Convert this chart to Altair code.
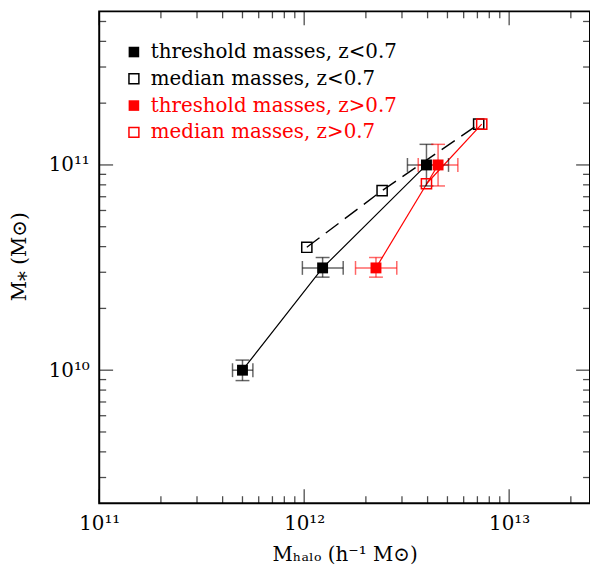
import altair as alt
import pandas as pd

# ---------------- data ----------------
# threshold masses, z<0.7
thr_lo_mhalo = [5.0e11, 1.23e12, 3.95e12]
thr_lo_mstar = [1.0e10, 3.15e10, 1.0e11]
thr_lo_mhalo_lo = [4.47e11, 9.8e11, 3.19e12]
thr_lo_mhalo_hi = [5.62e11, 1.55e12, 5.06e12]
thr_lo_mstar_lo = [8.9e9, 2.84e10, 7.9e10]
thr_lo_mstar_hi = [1.12e10, 3.54e10, 1.26e11]

# threshold masses, z>0.7
thr_hi_mhalo = [2.24e12, 4.5e12]
thr_hi_mstar = [3.15e10, 1.0e11]
thr_hi_mhalo_lo = [1.78e12, 3.6e12]
thr_hi_mhalo_hi = [2.83e12, 5.62e12]
thr_hi_mstar_lo = [2.84e10, 7.9e10]
thr_hi_mstar_hi = [3.54e10, 1.26e11]

# median masses
med_lo_mhalo = [1.03e12, 2.4e12, 7.1e12]
med_lo_mstar = [3.97e10, 7.5e10, 1.58e11]
med_hi_mhalo = [3.95e12, 7.35e12]
med_hi_mstar = [8.1e10, 1.58e11]

x_major = [1e11, 1e12, 1e13]
x_labels = ["10¹¹", "10¹²", "10¹³"]
x_minor = [2e11, 3e11, 4e11, 5e11, 6e11, 7e11, 8e11, 9e11,
           2e12, 3e12, 4e12, 5e12, 6e12, 7e12, 8e12, 9e12, 2e13]
y_major = [1e10, 1e11]
y_labels = ["10¹⁰", "10¹¹"]
y_minor = [3e9, 4e9, 5e9, 6e9, 7e9, 8e9, 9e9,
           2e10, 3e10, 4e10, 5e10, 6e10, 7e10, 8e10, 9e10,
           2e11, 3e11, 4e11, 5e11]

legend_labels = ["threshold masses, z<0.7", "median masses, z<0.7",
                 "threshold masses, z>0.7", "median masses, z>0.7"]
legend_filled = [True, False, True, False]
legend_colors = ["black", "black", "red", "red"]

x_domain = [1e11, 2.48e13]
y_domain = [2.25e9, 5.6e11]

# ---------------- layout ----------------
W, H = 495, 496
FONT = "DejaVu Serif"
RED = "#ff0000"
FS = 20

xs = alt.Scale(type="log", domain=x_domain, nice=False)
ys = alt.Scale(type="log", domain=y_domain, nice=False)


def label_expr(vals, labels):
    expr = "''"
    for v, l in zip(reversed(vals), reversed(labels)):
        expr = f"datum.value == {v:.0e} ? '{l}' : " + expr
    return expr


x_axis = alt.Axis(values=x_major, labelExpr=label_expr(x_major, x_labels),
                  ticks=False, tickSize=0, domain=False, grid=False,
                  labelFont=FONT, labelFontSize=FS, labelPadding=11,
                  labelColor="black", labelFlush=False,
                  title="Mₕₐₗₒ (h⁻¹ M⊙)", titleFont=FONT, titleFontSize=FS,
                  titleFontWeight="normal", titleColor="black",
                  titleBaseline="alphabetic", titleAlign="center", titleY=58, titleX=W / 2)
y_axis = alt.Axis(values=y_major, labelExpr=label_expr(y_major, y_labels),
                  ticks=False, tickSize=0, domain=False, grid=False,
                  labelFont=FONT, labelFontSize=FS, labelPadding=10,
                  labelColor="black", labelFlush=False,
                  title="M⁎ (M⊙)", titleFont=FONT, titleFontSize=FS,
                  titleFontWeight="normal", titleColor="black",
                  titleAngle=270, titleBaseline="alphabetic", titleAlign="center",
                  titleX=-74, titleY=H / 2 - 1)


def df_of(**cols):
    return pd.DataFrame(cols)


thr_lo = df_of(x=thr_lo_mhalo, y=thr_lo_mstar, xlo=thr_lo_mhalo_lo, xhi=thr_lo_mhalo_hi,
               ylo=thr_lo_mstar_lo, yhi=thr_lo_mstar_hi)
thr_hi = df_of(x=thr_hi_mhalo, y=thr_hi_mstar, xlo=thr_hi_mhalo_lo, xhi=thr_hi_mhalo_hi,
               ylo=thr_hi_mstar_lo, yhi=thr_hi_mstar_hi)
med_lo = df_of(x=med_lo_mhalo, y=med_lo_mstar)
med_hi = df_of(x=med_hi_mhalo, y=med_hi_mstar)

X = lambda f="x": alt.X(f"{f}:Q", scale=xs, axis=x_axis)
Y = lambda f="y": alt.Y(f"{f}:Q", scale=ys, axis=y_axis)

layers = []

# lines
layers.append(alt.Chart(thr_lo).mark_line(color="black", strokeWidth=1.2).encode(x=X(), y=Y()))
layers.append(alt.Chart(med_lo).mark_line(color="black", strokeWidth=1.4, strokeDash=[16, 8]).encode(x=X(), y=Y()))
layers.append(alt.Chart(thr_hi).mark_line(color=RED, strokeWidth=1.2).encode(x=X(), y=Y()))
layers.append(alt.Chart(med_hi).mark_line(color=RED, strokeWidth=1.2).encode(x=X(), y=Y()))

# error bars
CAP = 14
for d, col in [(thr_lo, "black"), (thr_hi, RED)]:
    op = 0.6
    layers.append(alt.Chart(d).mark_rule(color=col, strokeWidth=1.5, opacity=op).encode(
        x=X("xlo"), x2="xhi:Q", y=Y()))
    layers.append(alt.Chart(d).mark_rule(color=col, strokeWidth=1.5, opacity=op).encode(
        x=X(), y=Y("ylo"), y2="yhi:Q"))
    for f in ["xlo", "xhi"]:
        layers.append(alt.Chart(d).mark_tick(color=col, orient="vertical", size=CAP,
                                             thickness=1.5, opacity=op).encode(x=X(f), y=Y()))
    for f in ["ylo", "yhi"]:
        layers.append(alt.Chart(d).mark_tick(color=col, orient="horizontal", size=CAP,
                                             thickness=1.5, opacity=op).encode(x=X(), y=Y(f)))

# markers
layers.append(alt.Chart(med_lo).mark_point(shape="square", filled=False, size=105, strokeWidth=1.5,
                                           color="black", opacity=1).encode(x=X(), y=Y()))
layers.append(alt.Chart(med_hi).mark_point(shape="square", filled=False, size=105, strokeWidth=1.5,
                                           color=RED, opacity=1).encode(x=X(), y=Y()))
layers.append(alt.Chart(thr_lo).mark_point(shape="square", filled=True, size=121,
                                           color="black", opacity=1).encode(x=X(), y=Y()))
layers.append(alt.Chart(thr_hi).mark_point(shape="square", filled=True, size=121,
                                           color=RED, opacity=1).encode(x=X(), y=Y()))

# inward ticks on all four sides
for vals, ln in [(x_major, 14), (x_minor, 7)]:
    dfv = pd.DataFrame({"x": vals})
    for yv in [H - ln / 2, ln / 2]:
        layers.append(alt.Chart(dfv).mark_tick(color="black", orient="vertical", size=ln,
                                               thickness=1.3).encode(x=X("x"), y=alt.value(yv)))
for vals, ln in [(y_major, 14), (y_minor, 7)]:
    dfv = pd.DataFrame({"y": vals})
    for xv in [ln / 2, W - ln / 2]:
        layers.append(alt.Chart(dfv).mark_tick(color="black", orient="horizontal", size=ln,
                                               thickness=1.3).encode(y=Y("y"), x=alt.value(xv)))

# legend
for i, (lab, fil, col) in enumerate(zip(legend_labels, legend_filled, legend_colors)):
    c = "black" if col == "black" else RED
    yv = 41 + 27 * i
    dfl = pd.DataFrame({"t": [lab]})
    if fil:
        mk = alt.Chart(dfl).mark_point(shape="square", filled=True, size=114, color=c, opacity=1)
    else:
        mk = alt.Chart(dfl).mark_point(shape="square", filled=False, size=100, strokeWidth=1.5,
                                       color=c, opacity=1)
    layers.append(mk.encode(x=alt.value(35), y=alt.value(yv)))
    layers.append(alt.Chart(dfl).mark_text(font=FONT, fontSize=FS, color=c, align="left",
                                           baseline="middle").encode(
        text="t:N", x=alt.value(52), y=alt.value(yv)))

chart = alt.layer(*layers).properties(
    width=W, height=H,
    autosize=alt.AutoSizeParams(type="none"),
    padding={"left": 92, "top": 1, "right": 0, "bottom": 64},
    background="white",
).configure_view(stroke="black", strokeWidth=2)

chart.save("out.html", embed_options={"renderer": "svg", "actions": False})
